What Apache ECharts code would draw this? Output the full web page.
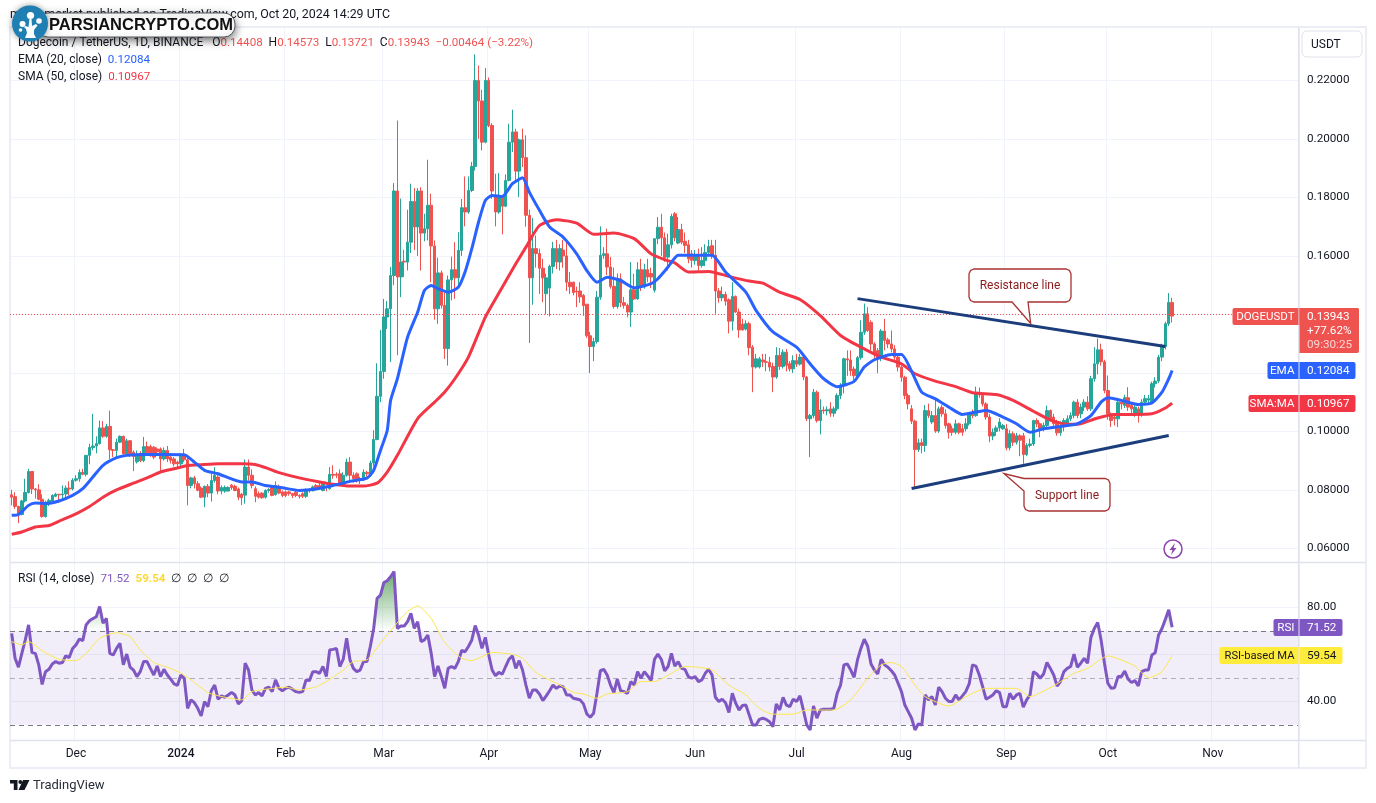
<!DOCTYPE html>
<html><head><meta charset="utf-8"><title>DOGEUSDT</title>
<style>html,body{margin:0;padding:0;background:#fff}#c{width:1376px;height:803px}</style>
<script src="https://cdn.jsdelivr.net/npm/echarts@6/dist/echarts.min.js"></script></head>
<body><div id="c"></div>
<script>
// [open, close, low, high]
const nov23=[[.0783,.0775,.0747,.0800],[.0777,.0743,.0735,.0792],[.0743,.0716,.0686,.0746],[.0716,.0762,.0713,.0766],[.0762,.0791,.0757,.0838],[.0791,.0863,.0788,.0872],[.0863,.0803,.0786,.0863],[.0803,.0800,.0770,.0806],[.0800,.0768,.0764,.0819],[.0768,.0709,.0705,.0785],[.0709,.0758,.0705,.0763],[.0758,.0764,.0745,.0770],[.0760,.0781,.0755,.0785],[.0778,.0785,.0775,.0790],[.0785,.0783,.0755,.0786],[.0783,.0786,.0770,.0815],[.0786,.0806,.0770,.0815],[.0806,.0803,.0781,.0829],[.0803,.0833,.0798,.0840]];
const dec23=[[.0833,.0838,.0828,.0850],[.0838,.0860,.0828,.0870],[.0860,.0853,.0850,.0872],[.0853,.0918,.0846,.0918],[.0918,.0945,.0888,.0958],[.0945,.0950,.0935,.1060],[.0950,.0958,.0925,.0983],[.0958,.1012,.0955,.1037],[.1012,.0983,.0978,.1035],[.0983,.1017,.0978,.1026],[.1017,.0937,.0906,.1071],[.0937,.0935,.0912,.0940],[.0935,.0963,.0906,.0975],[.0963,.0983,.0960,.0986],[.0983,.0923,.0917,.0986],[.0923,.0968,.0920,.0975],[.0968,.0918,.0912,.0970],[.0929,.0914,.0864,.0935],[.0896,.0921,.0890,.0935],[.0925,.0900,.0895,.0932],[.0900,.0948,.0895,.0981],[.0948,.0927,.0918,.0965],[.0948,.0918,.0913,.0955],[.0946,.0912,.0905,.0950],[.0940,.0930,.0925,.0945],[.0940,.0906,.0863,.0945],[.0906,.0935,.0900,.0945],[.0935,.0906,.0895,.0950],[.0912,.0901,.0890,.0915],[.0906,.0889,.0880,.0912],[.0895,.0889,.0875,.0900]];
const jan24=[[.0889,.0918,.0880,.0925],[.0918,.0903,.0895,.0940],[.0903,.0815,.0747,.0915],[.0815,.0841,.0805,.0845],[.0841,.0821,.0805,.0848],[.0821,.0799,.0795,.0830],[.0806,.0775,.0772,.0812],[.0775,.0812,.0741,.0815],[.0812,.0789,.0775,.0820],[.0789,.0832,.0760,.0855],[.0832,.0850,.0825,.0878],[.0844,.0796,.0785,.0860],[.0796,.0808,.0785,.0815],[.0796,.0808,.0790,.0815],[.0796,.0808,.0795,.0812],[.0816,.0808,.0800,.0820],[.0812,.0798,.0795,.0818],[.0803,.0775,.0765,.0808],[.0785,.0773,.0748,.0790],[.0782,.0878,.0753,.0904],[.0878,.0850,.0832,.0904],[.0850,.0815,.0805,.0870],[.0804,.0778,.0758,.0812],[.0787,.0775,.0770,.0795],[.0789,.0773,.0770,.0792],[.0775,.0798,.0770,.0802],[.0798,.0801,.0790,.0806],[.0810,.0781,.0778,.0815],[.0784,.0815,.0780,.0829],[.0812,.0789,.0785,.0818],[.0793,.0781,.0775,.0798]];
const feb24=[[.0793,.0781,.0775,.0798],[.0793,.0787,.0780,.0797],[.0787,.0781,.0772,.0790],[.0792,.0781,.0775,.0797],[.0781,.0778,.0770,.0785],[.0787,.0778,.0772,.0792],[.0778,.0800,.0772,.0805],[.0800,.0797,.0790,.0805],[.0797,.0810,.0795,.0815],[.0815,.0806,.0800,.0820],[.0815,.0806,.0800,.0825],[.0798,.0826,.0795,.0830],[.0810,.0808,.0795,.0815],[.0804,.0853,.0800,.0878],[.0853,.0850,.0838,.0884],[.0853,.0850,.0840,.0860],[.0855,.0821,.0815,.0870],[.0821,.0850,.0815,.0860],[.0850,.0895,.0845,.0907],[.0895,.0850,.0832,.0912],[.0850,.0838,.0825,.0860],[.0855,.0832,.0825,.0860],[.0835,.0832,.0820,.0845],[.0835,.0860,.0830,.0870],[.0860,.0855,.0845,.0865],[.0850,.0892,.0845,.0900],[.0892,.0972,.0880,.1004],[.0972,.1120,.0970,.1233],[.1120,.1205,.1100,.1347]];
const mar24=[[.1205,.1391,.1180,.1453],[.1391,.1419,.1350,.1446],[.1419,.1533,.1237,.1562],[.1533,.1822,.1500,.1849],[.1822,.1528,.1260,.2063],[.1528,.1579,.1459,.1796],[.1582,.1579,.1528,.1621],[.1579,.1647,.1550,.1758],[.1647,.1786,.1610,.1847],[.1786,.1699,.1620,.1832],[.1699,.1822,.1600,.1832],[.1822,.1678,.1550,.1835],[.1678,.1693,.1650,.1744],[.1693,.1773,.1653,.1929],[.1773,.1634,.1510,.1813],[.1634,.1419,.1382,.1653],[.1419,.1542,.1368,.1594],[.1542,.1431,.1420,.1550],[.1431,.1283,.1248,.1476],[.1283,.1518,.1225,.1533],[.1518,.1553,.1448,.1598],[.1553,.1525,.1453,.1647],[.1525,.1619,.1500,.1681],[.1619,.1765,.1600,.1795],[.1765,.1750,.1701,.1872],[.1750,.1824,.1744,.1872],[.1824,.1906,.1818,.1921],[.1906,.2200,.1892,.2289],[.2200,.2130,.2000,.2251],[.2130,.1989,.1961,.2168],[.1989,.2200,.1985,.2243]];
const apr24=[[.2200,.2046,.2040,.2210],[.2046,.1822,.1795,.2054],[.1807,.1750,.1701,.1881],[.1750,.1807,.1744,.1883],[.1807,.1770,.1674,.1807],[.1770,.1858,.1767,.1879],[.1858,.1989,.1855,.2052],[.1989,.2024,.1955,.2100],[.2024,.1890,.1858,.2035],[.1890,.1997,.1801,.2001],[.1997,.1936,.1904,.2035],[.1936,.1739,.1700,.2012],[.1739,.1525,.1302,.1758],[.1525,.1625,.1433,.1730],[.1625,.1608,.1560,.1670],[.1608,.1558,.1470,.1625],[.1558,.1525,.1442,.1590],[.1471,.1525,.1400,.1539],[.1490,.1564,.1393,.1570],[.1564,.1625,.1540,.1648],[.1625,.1579,.1555,.1655],[.1579,.1625,.1550,.1640],[.1620,.1600,.1560,.1655],[.1600,.1510,.1480,.1650],[.1510,.1495,.1470,.1545],[.1510,.1475,.1465,.1512],[.1480,.1477,.1425,.1495],[.1480,.1460,.1440,.1510],[.1465,.1430,.1395,.1470],[.1435,.1327,.1320,.1435]];
const may24=[[.1327,.1290,.1199,.1340],[.1290,.1307,.1240,.1320],[.1307,.1459,.1300,.1480],[.1459,.1602,.1450,.1701],[.1602,.1607,.1590,.1630],[.1607,.1562,.1535,.1693],[.1562,.1496,.1488,.1596],[.1496,.1427,.1420,.1560],[.1427,.1522,.1420,.1540],[.1522,.1440,.1425,.1540],[.1440,.1431,.1420,.1460],[.1431,.1408,.1390,.1437],[.1408,.1484,.1357,.1579],[.1484,.1453,.1450,.1539],[.1453,.1553,.1450,.1579],[.1553,.1494,.1480,.1590],[.1494,.1553,.1488,.1573],[.1553,.1528,.1510,.1590],[.1540,.1528,.1490,.1560],[.1483,.1659,.1475,.1659],[.1659,.1698,.1640,.1733],[.1698,.1662,.1600,.1744],[.1662,.1593,.1580,.1680],[.1596,.1638,.1550,.1676],[.1638,.1735,.1625,.1744],[.1744,.1662,.1650,.1750],[.1644,.1690,.1640,.1733],[.1690,.1647,.1640,.1710],[.1650,.1636,.1610,.1680],[.1638,.1590,.1575,.1655],[.1607,.1585,.1560,.1620]];
const jun24=[[.1584,.1601,.1570,.1620],[.1601,.1567,.1550,.1625],[.1567,.1584,.1560,.1630],[.1584,.1612,.1565,.1640],[.1612,.1632,.1600,.1655],[.1635,.1602,.1590,.1655],[.1602,.1480,.1402,.1655],[.1480,.1457,.1440,.1490],[.1457,.1468,.1445,.1495],[.1468,.1445,.1430,.1478],[.1450,.1377,.1335,.1455],[.1377,.1461,.1345,.1510],[.1461,.1408,.1405,.1465],[.1408,.1347,.1320,.1420],[.1367,.1347,.1345,.1385],[.1350,.1368,.1345,.1380],[.1368,.1286,.1260,.1375],[.1288,.1220,.1134,.1295],[.1220,.1248,.1215,.1265],[.1220,.1248,.1215,.1255],[.1244,.1238,.1220,.1265],[.1238,.1236,.1205,.1265],[.1236,.1220,.1205,.1255],[.1222,.1186,.1134,.1235],[.1186,.1260,.1180,.1288],[.1260,.1222,.1210,.1285],[.1222,.1271,.1215,.1280],[.1271,.1226,.1205,.1282],[.1231,.1214,.1205,.1240],[.1214,.1242,.1200,.1260]];
const jul24=[[.1242,.1230,.1220,.1265],[.1230,.1254,.1225,.1265],[.1254,.1186,.1175,.1262],[.1186,.1043,.1035,.1190],[.1043,.1054,.0912,.1060],[.1054,.1134,.1045,.1145],[.1134,.1037,.1030,.1140],[.1037,.1073,.0990,.1110],[.1073,.1070,.1060,.1085],[.1070,.1074,.1055,.1085],[.1077,.1062,.1050,.1100],[.1062,.1077,.1050,.1085],[.1077,.1123,.1070,.1130],[.1123,.1157,.1110,.1165],[.1157,.1248,.1130,.1252],[.1248,.1244,.1190,.1277],[.1244,.1207,.1190,.1277],[.1213,.1190,.1175,.1222],[.1186,.1252,.1180,.1258],[.1252,.1339,.1245,.1380],[.1339,.1402,.1330,.1437],[.1402,.1345,.1340,.1425],[.1373,.1299,.1277,.1380],[.1299,.1267,.1250,.1305],[.1276,.1252,.1199,.1285],[.1252,.1343,.1240,.1350],[.1343,.1311,.1277,.1385],[.1313,.1299,.1285,.1320],[.1299,.1282,.1270,.1345],[.1282,.1254,.1240,.1295],[.1254,.1220,.1205,.1262]];
const aug24=[[.1220,.1185,.1170,.1225],[.1185,.1123,.1110,.1190],[.1123,.1094,.1075,.1130],[.1077,.1035,.1025,.1090],[.1035,.0938,.0809,.1040],[.0938,.0961,.0930,.0975],[.0961,.0952,.0925,.0975],[.0952,.1071,.0930,.1090],[.1071,.1054,.1045,.1095],[.1032,.1054,.1025,.1070],[.1054,.1001,.0995,.1110],[.1001,.1077,.0995,.1085],[.1082,.1060,.1050,.1090],[.1060,.1020,.1010,.1075],[.1026,.0997,.0975,.1030],[.1009,.0997,.0985,.1020],[.0997,.1026,.0990,.1040],[.1026,.0997,.0990,.1030],[.1009,.0997,.0985,.1025],[.1009,.1026,.1000,.1045],[.1026,.1060,.1020,.1065],[.1060,.1054,.1045,.1075],[.1054,.1134,.1050,.1153],[.1134,.1125,.1115,.1150],[.1123,.1094,.1085,.1130],[.1094,.1049,.1040,.1100],[.1049,.0984,.0963,.1060],[.0984,.0997,.0970,.1010],[.1000,.1012,.0985,.1020],[.1012,.1032,.1000,.1045],[.1009,.1020,.1005,.1025]];
const sep24=[[.1009,.0944,.0935,.1025],[.0944,.0992,.0935,.1005],[.0992,.0963,.0950,.1000],[.0963,.0985,.0955,.0995],[.0985,.0970,.0915,.0990],[.0985,.0921,.0889,.0995],[.0921,.0952,.0915,.0960],[.0952,.0957,.0945,.0975],[.0957,.1037,.0950,.1040],[.1037,.1026,.1015,.1045],[.1026,.1009,.0980,.1030],[.1009,.1020,.1000,.1030],[.1020,.1071,.1015,.1088],[.1071,.1043,.1035,.1075],[.1049,.1026,.1010,.1060],[.1032,.0995,.0985,.1040],[.0995,.1017,.0985,.1035],[.1017,.1037,.1000,.1045],[.1026,.1043,.1015,.1055],[.1043,.1054,.1035,.1065],[.1054,.1100,.1045,.1105],[.1100,.1054,.1045,.1110],[.1060,.1083,.1045,.1095],[.1083,.1100,.1070,.1110],[.1100,.1077,.1070,.1120],[.1077,.1180,.1070,.1190],[.1180,.1231,.1170,.1288],[.1231,.1279,.1195,.1317],[.1279,.1238,.1225,.1300],[.1238,.1140,.1130,.1245]];
const oct24=[[.1140,.1060,.1040,.1191],[.1060,.1037,.1015,.1065],[.1049,.1043,.1020,.1060],[.1043,.1100,.1015,.1115],[.1100,.1094,.1075,.1105],[.1089,.1115,.1080,.1125],[.1115,.1083,.1070,.1151],[.1089,.1077,.1060,.1100],[.1060,.1083,.1050,.1090],[.1077,.1060,.1030,.1085],[.1060,.1100,.1050,.1110],[.1100,.1112,.1090,.1125],[.1107,.1112,.1095,.1125],[.1100,.1163,.1095,.1170],[.1163,.1172,.1150,.1185],[.1172,.1254,.1165,.1262],[.1254,.1290,.1240,.1300],[.1290,.1368,.1280,.1375],[.1368,.1441,.1360,.1473],[.14408,.13943,.13721,.14573]];

const emaDays=[0,2,5,7,10,14,18,21,24,27,31,34,39,45,51,54,57,61,68,71,75,80,85,90,95,100,105,107,109,111,112,114,117,120,122,124,126,129,132,134,136,138,140,142,145,148,151,153,156,159,163,167,170,173,176,180,184,189,191,194,197,202,207,211,217,220,225,232,236,240,244,249,252,255,260,263,267,269,273,277,281,285,288,293,297,301,305,310,315,319,322,324,328,333,337,340,342,343];
const emaValues=[.0713,.0716,.0747,.0755,.0753,.0762,.0781,.0804,.0844,.0884,.0910,.0918,.0921,.0921,.0920,.0895,.0867,.0855,.0827,.0827,.0815,.0807,.0798,.0803,.0815,.0829,.0840,.0867,.0935,.1003,.1106,.1180,.1322,.1408,.1482,.1499,.1488,.1476,.1493,.1545,.1625,.1716,.1790,.1807,.1803,.1847,.1867,.1818,.1756,.1699,.1664,.1607,.1550,.1510,.1527,.1516,.1491,.1505,.1522,.1562,.1602,.1602,.1602,.1545,.1476,.1414,.1340,.1288,.1231,.1180,.1153,.1171,.1220,.1245,.1263,.1263,.1180,.1134,.1111,.1083,.1058,.1066,.1071,.1049,.1026,.0997,.1009,.1017,.1026,.1054,.1100,.1115,.1106,.1092,.1097,.1134,.1180,.12084];
const smaDays=[0,3,7,11,14,19,23,27,31,36,40,44,48,52,56,61,68,72,76,79,85,91,95,100,104,108,111,114,120,125,128,131,135,140,145,149,152,156,161,167,172,178,184,189,193,196,200,206,212,218,222,227,233,239,245,251,257,263,267,273,279,284,291,296,302,307,312,316,321,326,332,337,341,343];
const smaValues=[.0648,.0656,.0673,.0678,.0693,.0718,.0743,.0775,.0800,.0823,.0841,.0861,.0872,.0883,.0886,.0889,.0889,.0887,.0872,.0859,.0841,.0827,.0819,.0813,.0813,.0823,.0861,.0918,.1044,.1100,.1135,.1180,.1254,.1391,.1493,.1573,.1630,.1704,.1724,.1712,.1674,.1678,.1659,.1607,.1587,.1576,.1545,.1547,.1530,.1514,.1507,.1476,.1451,.1396,.1328,.1288,.1254,.1231,.1197,.1172,.1153,.1132,.1126,.1106,.1069,.1039,.1024,.1026,.1046,.1058,.1058,.1060,.1080,.10967];
const rsiValues=[68.9,58.3,54.5,60.4,66,72.5,60.7,60.4,55.5,47.2,52.6,53.6,55.9,56.9,56.2,56.5,59.4,58.6,62.5,64,66.5,65.8,72.5,74.3,75.2,76,80.3,73.2,75.3,60.4,59.7,62.5,64.7,55.5,60.1,54.5,53.3,50.5,52.6,56.9,56.9,54,51.2,55,50.5,53.6,51.2,49.4,47.4,46.8,51.2,49.8,37,40.6,39.4,37,33.8,39.9,37.7,44.5,46.9,40.9,42.3,41.7,42.7,43.8,42.7,38.9,40.3,56.2,53.3,44.8,42.7,43.7,42.3,45.5,46,44.1,49.1,45.5,44.5,45.5,46,45.1,44.1,43.8,44.1,49.1,48.8,52.6,52.6,51.9,54.8,50.5,61.8,62.1,62.5,54.8,57.9,66.8,57.6,54,52.6,53.3,56.9,56.9,63.3,71,83.8,85.2,90.5,91.3,93,95.2,71,72,72,73.9,77.4,71,73.9,65.4,66.1,68.2,60.4,50.5,55,
50.5,45.5,54,54.8,54,56.9,61.6,61.1,63.3,66.1,72.2,68.2,62.5,67.2,59.7,53.3,50.9,52.3,51.5,54.8,57.9,59.3,54,57.3,53.3,46.9,41.3,44.8,44.8,43.1,40.3,42.3,44.5,46.9,45.5,46.5,46.2,42.7,42.7,41.3,41,40.6,38.9,34.6,33.2,34.9,43.4,53,53.6,51.2,46.9,43.7,49.4,44.5,44.1,43.4,48.4,46.9,52.6,49.8,52.6,50.8,48.8,57.9,60.1,57.9,53,54.8,60.4,55,56.9,54,53.6,50.5,49.8,50.5,48.4,49.1,51.9,53.6,51.2,41.7,39.9,40.9,39.4,35.2,43.4,39.2,36.3,38.2,38.4,34.2,29.9,29.9,32.3,32.8,32.3,31.3,29.2,38.9,36.3,41.7,38.4,37.7,40.9,39.9,42.3,36.3,29.9,27.8,38,32.8,36.3,36.6,36.6,36.6,37,43.4,46.9,55.5,55.9,53.3,50.2,57.6,62.5,66.4,63.5,55.9,53.3,51.6,57.9,55.5,54.5,53,51.2,47.7,44.1,38.4,35.6,32.8,27.8,30.4,29.9,42.7,40.6,42,38.4,46,44.1,41.3,39.9,39.9,42.7,40.6,42.3,44.1,47.4,55.5,55,51.2,46.2,40.9,41.7,42.7,44.5,43.7,37.7,37.7,43.4,40.9,42.7,43.4,37.5,40.6,42.7,52.6,51.6,49.8,51.6,56.5,54,51.2,46.5,48.4,52.6,54,54.8,60.1,54.5,56.2,58.3,56.2,67.2,71,73.5,66.1,56.2,47.7,45.5,45.8,50.5,50.5,52.9,49.4,48,48.8,46.5,52.6,53.3,53.3,59.7,60.7,68.2,71,74.9,78.9,71.52];
const maDays=[0,3,5,9,14,19,22,26,31,35,38,42,46,50,53,58,63,68,71,75,81,85,90,93,98,101,105,109,113,117,120,124,127,129,133,136,139,142,148,151,155,160,163,166,169,173,176,182,186,190,195,199,203,207,212,217,221,225,231,235,243,248,253,257,260,263,267,270,277,283,288,297,301,306,309,314,318,324,332,336,340,343];
const maValues=[65.4,64,65.4,61.5,57.9,57.3,60.4,66.8,69.2,67.5,61.8,56.5,54.5,52,49.1,43.7,41.7,40.6,44.1,45.1,46,44.8,46.2,48.4,53.3,56.9,57.6,64.7,71.8,78.2,80.6,75.3,67.2,63.3,58.3,57.3,59,60.8,60,58.3,52.2,48.4,46.2,43.8,43.1,41.3,43.1,44.1,48.4,48.4,51.9,54.8,54.5,53.3,46.9,42.7,37,34.5,34.5,36.3,36.3,40.6,49.8,55.5,56.5,54.8,46.9,42,38,42.7,45.5,45.5,42,45.1,47.4,51.9,54,59.3,55,50,52.6,59.54];
const resistanceDays=[250,341], resistanceValues=[.1454,.1290];
const supportDays=[266,342], supportValues=[.0805,.0986];
const monthStarts=[19,50,81,110,141,171,202,232,263,294,324,355];
const monthLabels=['Dec','2024','Feb','Mar','Apr','May','Jun','Jul','Aug','Sep','Oct','Nov'];
const priceTicks=[.06,.08,.10,.12,.14,.16,.18,.20,.22];
const priceLabels=[.06,.08,.10,.16,.18,.20,.22];
const rsiTicks=[40,60,80], rsiLabels=[40,80];
const lastClose=.13943;

const ohlc=[].concat(nov23,dec23,jan24,feb24,mar24,apr24,may24,jun24,jul24,aug24,sep24,oct24);
if(ohlc.length!==344||rsiValues.length!==344) console.error('length',ohlc.length,rsiValues.length);
if(emaDays.length!==emaValues.length||smaDays.length!==smaValues.length||maDays.length!==maValues.length) console.error('sparse',emaDays.length,emaValues.length,smaDays.length,smaValues.length,maDays.length,maValues.length);
const categories=[];
for(let i=0;i<381;i++){const d=new Date(Date.UTC(2023,10,12+i));categories.push(d.toISOString().slice(0,10));}
const zip=(a,b)=>a.map((x,i)=>[x,b[i]]);
const isMonth=(i)=>monthStarts.includes(i);
const F='Roboto,"Noto Sans",sans-serif';
const INK='#131722',GRID='#f0f3fa',EDGE='#e0e3eb',RED='#ef5350',GREEN='#26a69a',BLUE='#2962ff',SMA='#f23645',PUR='#7e57c2',YEL='#ffeb3b',NAVY='#1c3d7c';

const T=(x,y,text,o={})=>({type:'text',z:50,x,y,silent:true,style:Object.assign({text,fill:INK,font:'12px '+F,textVerticalAlign:'middle',textAlign:'left'},o)});
const B=(x,y,w,h,fill,r,o={})=>({type:'rect',z:45,silent:true,shape:{x,y,width:w,height:h,r},style:Object.assign({fill},o)});
const P=(points,fill,z=46,o={})=>({type:'polygon',z,silent:true,shape:{points},style:Object.assign({fill},o)});
function badge(y,h,labW,lab,valW,val,bg,fg,labFont){return [
 B(1298.5-labW,y,labW,h,bg,[2,0,0,2]),
 T(1294.5,y+h/2+.5,lab,{fill:fg,textAlign:'right',font:labFont+'px '+F}),
 B(1299.5,y,valW,h,bg,[0,2,2,0]),
 T(1307,y+h/2+.5,val,{fill:fg,font:'11.7px '+F})];}
const num='11.6px '+F;
const rows=[
 {type:'text',z:50,x:18,y:43,silent:true,style:{text:'{k|Dogecoin / TetherUS, 1D, BINANCE   O}{r|0.14408}{k|  H}{r|0.14573}{k|  L}{r|0.13721}{k|  C}{r|0.13943}{r|  −0.00464 (−3.22%)}',font:'12px '+F,textVerticalAlign:'middle',rich:{k:{fill:INK,font:'12px '+F},r:{fill:RED,font:num}}}},
 {type:'text',z:50,x:18,y:60,silent:true,style:{text:'{k|EMA (20, close)  }{b|0.12084}',font:'12px '+F,textVerticalAlign:'middle',rich:{k:{fill:INK,font:'12px '+F},b:{fill:BLUE,font:num}}}},
 {type:'text',z:50,x:18,y:77,silent:true,style:{text:'{k|SMA (50, close)  }{b|0.10967}',font:'12px '+F,textVerticalAlign:'middle',rich:{k:{fill:INK,font:'12px '+F},b:{fill:SMA,font:num}}}},
 {type:'text',z:50,x:18,y:579,silent:true,style:{text:'{k|RSI (14, close)  }{p|71.52}{k|  }{y|59.54}{k|  ∅  ∅  ∅  ∅}',font:'12px '+F,textVerticalAlign:'middle',rich:{k:{fill:INK,font:'12px '+F},p:{fill:PUR,font:num},y:{fill:'#fdd835',font:'bold 11.6px '+F}}}}
];
const callout=(pts,tx,ty,t)=>[
 P(pts,'#fff',46,{stroke:'#a83232',lineWidth:1.3}),
 T(tx,ty,t,{fill:'#8b1a1a',textAlign:'center'})];
const graphics=[
 {type:'rect',z:1,silent:true,shape:{x:10,y:27,width:1356,height:741},style:{fill:'none',stroke:'#eceef5',lineWidth:2}},
 {type:'line',z:40,silent:true,shape:{x1:10,y1:562.5,x2:1366,y2:562.5},style:{stroke:EDGE,lineWidth:1.5}},
 {type:'line',z:40,silent:true,shape:{x1:10,y1:740.5,x2:1366,y2:740.5},style:{stroke:EDGE,lineWidth:1.5}},
 {type:'line',z:40,silent:true,shape:{x1:1298.7,y1:27,x2:1298.7,y2:768},style:{stroke:EDGE,lineWidth:1.5}},
 T(10,15,'mcoinmarket published on TradingView.com, Oct 20, 2024 14:29 UTC',{font:'12.4px '+F}),
 ...rows,
 // USDT button
 {type:'rect',z:46,silent:true,shape:{x:1302,y:31,width:60,height:26,r:5},style:{fill:'#fff',stroke:EDGE,lineWidth:1}},
 T(1311,45,'USDT'),
 // price tags
 ...badge(308,17,66,'DOGEUSDT',59.5,'',RED,'#fff',11.5),
 B(1299.5,308,59.5,45,RED,[0,2,2,0]),
 T(1307,317,'0.13943',{fill:'#fff',font:'11.7px '+F}),T(1307,331,'+77.62%',{fill:'#fff',font:'11.7px '+F}),T(1307,345,'09:30:25',{fill:'rgba(255,255,255,.75)',font:'11.7px '+F}),
 ...badge(362,17,31,'EMA',56,'0.12084',BLUE,'#fff',11.7),
 ...badge(395,17,50,'SMA:MA',56,'0.10967',SMA,'#fff',11.5),
 ...badge(619,17,25,'RSI',43,'71.52',PUR,'#fff',11.7),
 ...badge(647,17,79,'RSI-based MA',43,'59.54',YEL,INK,11.2),
 // callouts
 ...callout([[974,269],[1066,269],[1069.5,270.5],[1071,274],[1071,297],[1069.5,300.5],[1066,302],[1028,302],[1030.7,323.5],[1012,302],[974,302],[970.5,300.5],[969,297],[969,274],[970.5,270.5]],1020,285.5,'Resistance line'),
 ...callout([[1029,478.5],[1105,478.5],[1108.5,480],[1110,483.5],[1110,506],[1108.5,509.5],[1105,511],[1029,511],[1025.5,509.5],[1024,506],[1024,491],[1004,473.5],[1024,478.5]],1067,495.5,'Support line'),
 // bolt icon
 {type:'circle',z:46,silent:true,shape:{cx:1173,cy:549,r:9},style:{fill:'#fff',stroke:'#8e44ad',lineWidth:1.5}},
 P([[1175,543],[1169.5,550],[1172.5,550],[1171,555],[1176.5,548],[1173.5,548]],'#8e44ad',47),
 // TradingView mark
 P([[10,780],[17.5,780],[17.5,790],[13.8,790],[13.8,783.5],[10,783.5]],INK),
 P([[23,780],[29.5,780],[24.5,790],[18.5,790]],INK),
 {type:'circle',z:46,silent:true,shape:{cx:20.3,cy:782,r:1.9},style:{fill:INK}},
 T(33,786,'TradingView',{font:'13px '+F,fill:'#2a2e39'}),
 // brand logo
 {type:'rect',z:60,silent:true,shape:{x:37,y:13,width:198,height:24,r:11},style:{fill:'#fff',stroke:'#55585f',lineWidth:1,shadowBlur:9,shadowColor:'rgba(0,0,0,.55)',shadowOffsetY:3}},
 {type:'text',z:61,x:49,y:25.5,silent:true,style:{text:'PARSIANCRYPTO.COM',fill:'#111',font:'bold 16.5px "Liberation Sans",sans-serif',textVerticalAlign:'middle'}},
 {type:'circle',z:62,silent:true,shape:{cx:30,cy:23.5,r:18},style:{fill:'#1f7fb3',shadowBlur:6,shadowColor:'rgba(0,0,0,.4)'}},
 P([[25,38],[27,33],[26,29],[24,27],[25.5,26],[28.5,27],[29.5,19],[31.5,19],[32,26],[36,24],[37.5,25.5],[34,30],[34,34],[36,38]],'#fff',63),
 {type:'circle',z:63,silent:true,shape:{cx:22.5,cy:24,r:3},style:{fill:'#fff'}},
 {type:'circle',z:63,silent:true,shape:{cx:30.5,cy:15.5,r:3.6},style:{fill:'#fff'}},
 {type:'circle',z:63,silent:true,shape:{cx:39,cy:21,r:2.8},style:{fill:'#fff'}},
 {type:'circle',z:63,silent:true,shape:{cx:20.5,cy:30,r:1.8},style:{fill:'#fff'}}
];

const monthAxis=(grid,labels)=>({type:'category',gridIndex:grid,data:categories,boundaryGap:true,
 axisLine:{show:false},
 axisTick:{show:false,alignWithLabel:true,interval:(i)=>isMonth(i)},
 splitLine:{show:true,interval:(i)=>isMonth(i),lineStyle:{color:GRID,width:1}},
 axisLabel:{show:labels,interval:(i)=>isMonth(i),margin:8,color:INK,fontSize:12,fontFamily:F,hideOverlap:false,
  formatter:(v,i)=>{const k=monthStarts.indexOf(i);return k<0?'':(monthLabels[k]==='2024'?'{b|2024}':monthLabels[k]);},
  rich:{b:{fontWeight:500,fontSize:12,fontFamily:F,color:INK}}}});
const chart=echarts.init(document.getElementById('c'),null,{renderer:'canvas'});
chart.setOption({animation:false,backgroundColor:'#fff',
 grid:[{left:10,right:77,top:28.4,height:534},{left:10,right:77,top:563,height:176.5}],
 xAxis:[monthAxis(0,false),monthAxis(1,true)],
 yAxis:[
  {type:'value',gridIndex:0,position:'right',min:.0552,max:.2378,scale:true,
   axisLine:{show:false},axisTick:{show:false,customValues:priceTicks},
   splitLine:{show:true,lineStyle:{color:GRID,width:1}},
   axisLabel:{customValues:priceLabels,margin:8,color:INK,fontSize:11.7,fontFamily:F,padding:[2,0,0,0],formatter:v=>v.toFixed(5)}},
  {type:'value',gridIndex:1,position:'right',min:23.74,max:98.85,
   axisLine:{show:false},axisTick:{show:false,customValues:rsiTicks},
   splitLine:{show:true,lineStyle:{color:GRID,width:1}},
   axisLabel:{customValues:rsiLabels,margin:8,color:INK,fontSize:11.7,fontFamily:F,padding:[2,0,0,0],formatter:v=>v.toFixed(2)}}],
 series:[
  {type:'candlestick',name:'DOGEUSDT',xAxisIndex:0,yAxisIndex:0,data:ohlc,barWidth:3,z:3,
   itemStyle:{color:GREEN,color0:RED,borderColor:GREEN,borderColor0:RED,borderWidth:1},
   markLine:{silent:true,symbol:'none',label:{show:false},lineStyle:{color:RED,type:[1,2],width:1},data:[{yAxis:lastClose}],animation:false}},
  {type:'line',name:'SMA',data:zip(smaDays,smaValues),smooth:.2,showSymbol:false,z:5,lineStyle:{color:SMA,width:3}},
  {type:'line',name:'EMA',data:zip(emaDays,emaValues),smooth:.2,showSymbol:false,z:6,lineStyle:{color:BLUE,width:3}},
  {type:'line',name:'Resistance',data:zip(resistanceDays,resistanceValues),showSymbol:false,z:7,lineStyle:{color:NAVY,width:3}},
  {type:'line',name:'Support',data:zip(supportDays,supportValues),showSymbol:false,z:7,lineStyle:{color:NAVY,width:3}},
  {type:'line',name:'RSI over',xAxisIndex:1,yAxisIndex:1,data:rsiValues.map(v=>Math.max(v,70)),showSymbol:false,z:2,lineStyle:{width:0,opacity:0},
   areaStyle:{origin:70,opacity:1,color:{type:'linear',x:0,y:570,x2:0,y2:631,global:true,colorStops:[{offset:0,color:'rgba(56,142,60,.75)'},{offset:1,color:'rgba(56,142,60,0)'}]}}},
  {type:'line',name:'RSI',xAxisIndex:1,yAxisIndex:1,data:rsiValues,showSymbol:false,z:5,lineStyle:{color:PUR,width:3},
   markArea:{silent:true,itemStyle:{color:'rgba(126,87,194,.1)'},data:[[{yAxis:70},{yAxis:30}]]},
   markLine:{silent:true,symbol:'none',label:{show:false},data:[
    {yAxis:70,lineStyle:{color:'#787b86',type:[5,4],width:1}},
    {yAxis:50,lineStyle:{color:'rgba(120,123,134,.55)',type:[5,4],width:1}},
    {yAxis:30,lineStyle:{color:'#787b86',type:[5,4],width:1}}]}},
  {type:'line',name:'RSI MA',xAxisIndex:1,yAxisIndex:1,data:zip(maDays,maValues),smooth:.2,showSymbol:false,z:6,lineStyle:{color:'#fde74c',width:1}}
 ],
 graphic:graphics});
</script></body></html>
